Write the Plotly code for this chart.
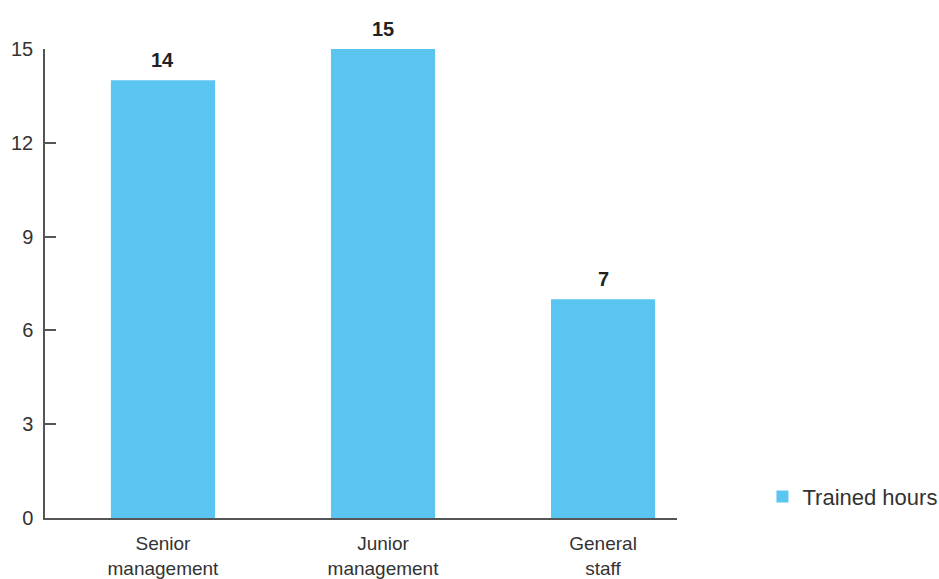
import plotly.graph_objects as go

categories = ["Senior<br>management", "Junior<br>management", "General<br>staff"]
trained_hours = [14, 15, 7]
y_ticks = [0, 3, 6, 9, 12, 15]
series_name = "Trained hours"

BAR = "#5BC5F2"
AX = "#555555"
FONT = "Liberation Sans, Arial, Helvetica, sans-serif"

fig = go.Figure()
fig.add_trace(go.Bar(
    x=categories, y=trained_hours, name=series_name,
    marker=dict(color=BAR, line=dict(width=0)),
    width=0.473, showlegend=True,
))

for c, v in zip(categories, trained_hours):
    fig.add_annotation(x=c, y=v, text=f"<b>{v}</b>", showarrow=False,
                       yanchor="bottom", yshift=7,
                       font=dict(family=FONT, size=20, color="#222222"))

fig.update_layout(
    width=939, height=579,
    margin=dict(l=45, r=262, t=49, b=61, autoexpand=False),
    paper_bgcolor="white", plot_bgcolor="white",
    font=dict(family=FONT, size=20, color="#333333"),
    showlegend=True,
    legend=dict(xref="container", yref="container",
                x=0.812, y=0.142, xanchor="left", yanchor="middle",
                font=dict(family=FONT, size=22, color="#333333"),
                bgcolor="rgba(0,0,0,0)"),
    xaxis=dict(
        type="category", range=[-0.536, 2.336], automargin=False,
        showline=True, linecolor=AX, linewidth=2,
        ticks="", showgrid=False, zeroline=False,
        tickfont=dict(family=FONT, size=19, color="#333333"),
        ticklabelstandoff=7,
    ),
    yaxis=dict(
        range=[0, 15], tickvals=y_ticks, automargin=False,
        showline=True, linecolor=AX, linewidth=1.5,
        ticks="inside", ticklen=11, tickcolor=AX, tickwidth=1.5,
        showgrid=False, zeroline=False,
        tickfont=dict(family=FONT, size=20, color="#333333"),
        ticklabelstandoff=6,
    ),
)

fig.write_html("out.html")
